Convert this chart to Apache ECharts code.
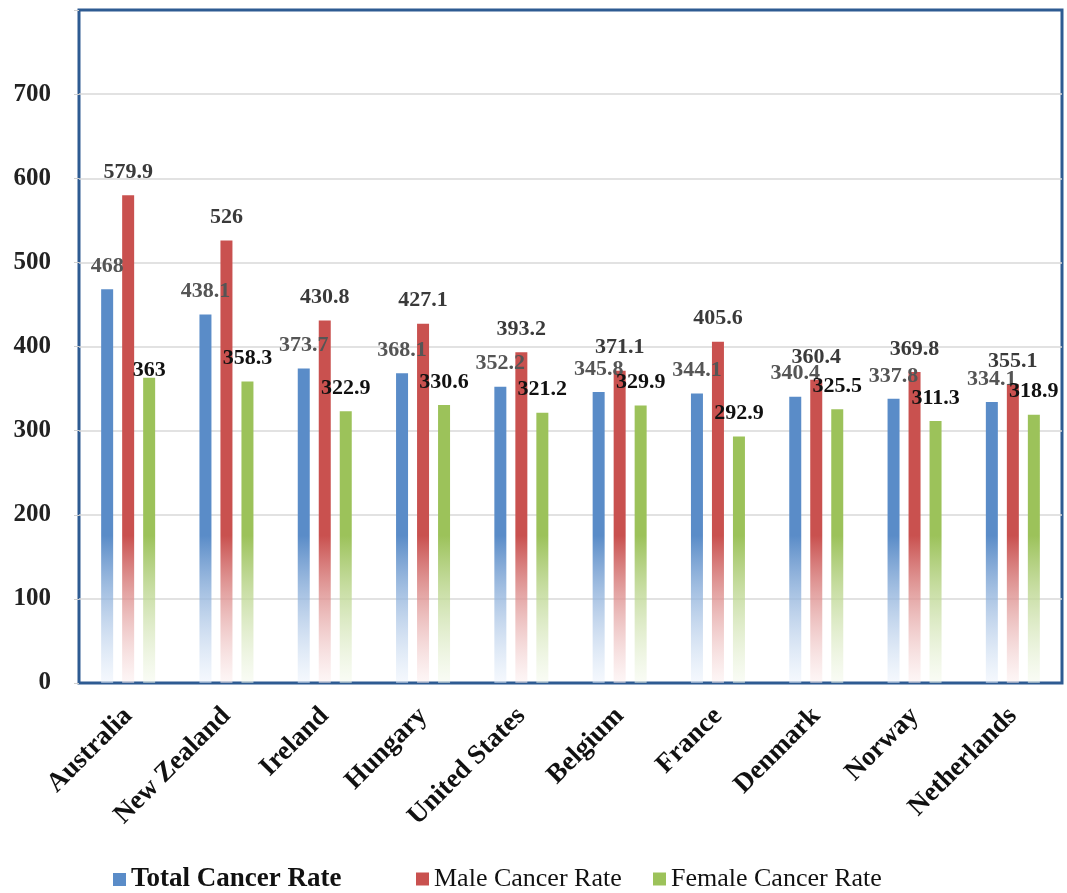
<!DOCTYPE html>
<html>
<head>
<meta charset="utf-8">
<script src="https://cdn.jsdelivr.net/npm/echarts@6/dist/echarts.min.js"></script>
<style>
  html, body { margin: 0; padding: 0; background: #fff; }
  #chart { width: 1067px; height: 893px; }
</style>
</head>
<body>
<div id="chart"></div>
<script>
// Cancer incidence per 100,000 by country
const countries = ['Australia', 'New Zealand', 'Ireland', 'Hungary', 'United States',
  'Belgium', 'France', 'Denmark', 'Norway', 'Netherlands'];
const totalRate = [468, 438.1, 373.7, 368.1, 352.2, 345.8, 344.1, 340.4, 337.8, 334.1];
const maleRate = [579.9, 526, 430.8, 427.1, 393.2, 371.1, 405.6, 360.4, 369.8, 355.1];
const femaleRate = [363, 358.3, 322.9, 330.6, 321.2, 329.9, 292.9, 325.5, 311.3, 318.9];
const seriesNames = ['Total Cancer Rate', 'Male Cancer Rate', 'Female Cancer Rate'];
const yTicks = [0, 100, 200, 300, 400, 500, 600, 700];

const SERIF = "'Liberation Serif', 'Times New Roman', serif";
// value below which every bar fades out towards white
const FADE_FROM = 175;

function fade(color, tail, value) {
  const solidTo = Math.max(0, 1 - FADE_FROM / value);
  return new echarts.graphic.LinearGradient(0, 0, 0, 1, [
    { offset: 0, color: color },
    { offset: solidTo, color: color },
    { offset: 1, color: tail }
  ]);
}

const palette = [
  { solid: '#5a8cc8', tail: 'rgba(235,242,252,0.5)', label: '#555555' },
  { solid: '#c9514f', tail: 'rgba(252,238,238,0.5)', label: '#3a3a3a' },
  { solid: '#9cc25a', tail: 'rgba(244,249,236,0.5)', label: '#111111' }
];

const values = [totalRate, maleRate, femaleRate];

const series = values.map((vals, i) => ({
  name: seriesNames[i],
  type: 'bar',
  data: vals.map((v, j) => {
    const item = {
      value: v,
      itemStyle: { color: fade(palette[i].solid, palette[i].tail, v) }
    };
    // the first female label sits right on its bar
    if (i === 2 && j === 0) item.label = { distance: -4 };
    return item;
  }),
  barWidth: 12,
  barGap: '75%',
  itemStyle: { color: palette[i].solid },
  label: {
    show: true,
    position: 'top',
    distance: 12,
    fontFamily: SERIF,
    fontSize: 22,
    fontWeight: 'bold',
    color: palette[i].label
  }
}));

const legendLefts = [108, 411, 648];
const legends = seriesNames.map((n, i) => ({
  data: [n],
  left: legendLefts[i],
  top: 861,
  icon: 'rect',
  itemWidth: 13,
  itemHeight: 13,
  itemGap: 6,
  textStyle: {
    fontFamily: SERIF,
    fontSize: i === 0 ? 27 : 26,
    color: '#111',
    fontWeight: i === 0 ? 'bold' : 'normal'
  }
}));

const gridLineColors = ['transparent', '#d9d9d9', '#d9d9d9', '#d9d9d9', '#d9d9d9',
  '#d9d9d9', '#d9d9d9', '#d9d9d9', 'transparent'];

const chart = echarts.init(document.getElementById('chart'), null, { renderer: 'canvas' });
chart.setOption({
  animation: false,
  backgroundColor: '#ffffff',
  grid: {
    left: 79, right: 5, top: 10, bottom: 210,
    show: true,
    borderColor: '#2e5b92',
    borderWidth: 3,
    backgroundColor: 'transparent'
  },
  legend: legends,
  xAxis: {
    type: 'category',
    data: countries,
    axisTick: { show: false },
    axisLine: { show: false },
    axisLabel: {
      rotate: 45,
      interval: 0,
      margin: 29,
      fontFamily: SERIF,
      fontSize: 27,
      fontWeight: 'bold',
      color: '#111'
    }
  },
  yAxis: {
    type: 'value',
    min: 0,
    max: 800,
    interval: 100,
    axisLine: { show: false },
    axisTick: { show: true, length: 5, lineStyle: { color: '#d0d0d0' } },
    splitLine: { lineStyle: { color: gridLineColors, width: 1.5 } },
    axisLabel: {
      margin: 28,
      fontFamily: SERIF,
      fontSize: 25,
      fontWeight: 'bold',
      color: '#222',
      formatter: v => (yTicks.indexOf(v) >= 0 ? String(v) : '')
    }
  },
  series: series
});
</script>
</body>
</html>
